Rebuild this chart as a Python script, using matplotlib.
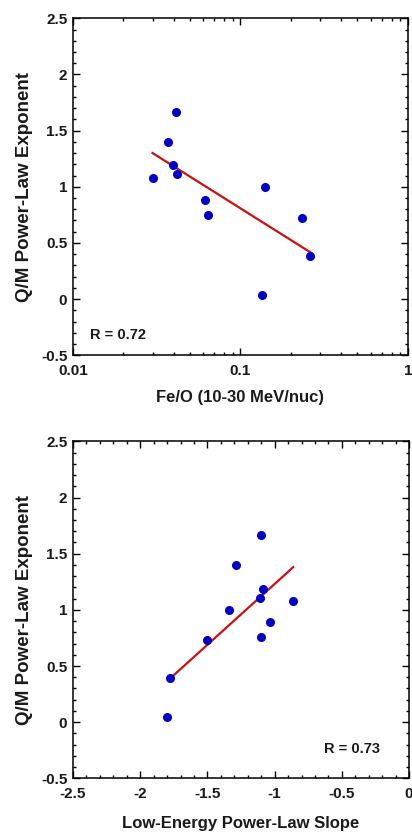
import numpy as np
import matplotlib.pyplot as plt
from matplotlib.ticker import MultipleLocator, LogLocator, NullFormatter, FixedLocator

plt.rcParams['font.family'] = ['Liberation Sans', 'DejaVu Sans']
plt.rcParams['font.weight'] = 'bold'

# top panel: Fe/O vs Q/M exponent
feo = [0.0299, 0.0369, 0.041, 0.0397, 0.042, 0.0614, 0.0643, 0.140, 0.135, 0.232, 0.260]
qm_top = [1.08, 1.40, 1.67, 1.19, 1.11, 0.88, 0.75, 1.00, 0.04, 0.72, 0.38]
fit_top_x = [0.0299, 0.266]
fit_top_y = [1.30, 0.41]

# bottom panel: low-energy slope vs Q/M exponent
slope = [-1.10, -1.29, -1.085, -1.11, -0.867, -1.338, -1.033, -1.103, -1.501, -1.779, -1.799]
qm_bot = [1.67, 1.40, 1.19, 1.11, 1.08, 1.00, 0.89, 0.76, 0.73, 0.39, 0.05]
fit_bot_x = [-1.767, -0.862]
fit_bot_y = [0.40, 1.38]

y_ticks = [-0.5, 0, 0.5, 1, 1.5, 2, 2.5]
y_labels = ['-0.5', '0', '0.5', '1', '1.5', '2', '2.5']
x_top_ticks = [0.01, 0.1, 1]
x_top_labels = ['0.01', '0.1', '1']
x_bot_ticks = [-2.5, -2, -1.5, -1, -0.5, 0]
x_bot_labels = ['-2.5', '-2', '-1.5', '-1', '-0.5', '0']

dot = '#0000c8'
red = '#cc1010'
txt = '#1a1a1a'

fig = plt.figure(figsize=(4.12, 8.32), dpi=100)
ax1 = fig.add_axes([0.177, 0.573, 0.813, 0.405])
ax2 = fig.add_axes([0.177, 0.0645, 0.816, 0.405])

# top
ax1.set_xscale('log')
ax1.set_xlim(0.01, 1)
ax1.plot(fit_top_x, fit_top_y, color=red, lw=1.6, zorder=2)
ax1.plot(feo, qm_top, 'o', color=dot, ms=5.5, zorder=3)
ax1.xaxis.set_major_locator(FixedLocator(x_top_ticks))
ax1.xaxis.set_minor_locator(LogLocator(base=10, subs=np.arange(2, 10)))
ax1.xaxis.set_minor_formatter(NullFormatter())
ax1.set_xticklabels(x_top_labels)
ax1.set_xlabel('Fe/O (10-30 MeV/nuc)', fontsize=12, fontweight='bold', labelpad=9, color=txt)
ax1.text(0.05, 0.06, 'R = 0.72', transform=ax1.transAxes, fontsize=10.5, fontweight='bold',
         ha='left', va='center', color=txt)

# bottom
ax2.set_xlim(-2.5, 0)
ax2.plot(fit_bot_x, fit_bot_y, color=red, lw=1.6, zorder=2)
ax2.plot(slope, qm_bot, 'o', color=dot, ms=5.5, zorder=3)
ax2.set_xticks(x_bot_ticks)
ax2.set_xticklabels(x_bot_labels)
ax2.xaxis.set_minor_locator(MultipleLocator(0.1))
ax2.set_xlabel('Low-Energy Power-Law Slope', fontsize=12, fontweight='bold', labelpad=11, color=txt)
ax2.text(0.914, 0.086, 'R = 0.73', transform=ax2.transAxes, fontsize=10.5, fontweight='bold',
         ha='right', va='center', color=txt)

for ax in (ax1, ax2):
    ax.set_ylim(-0.5, 2.5)
    ax.set_yticks(y_ticks)
    ax.set_yticklabels(y_labels)
    ax.yaxis.set_minor_locator(MultipleLocator(0.1))
    ax.set_ylabel('Q/M Power-Law Exponent', fontsize=13.5, fontweight='bold', labelpad=6, color=txt)
    for s in ax.spines.values():
        s.set_linewidth(1.1)
    ax.tick_params(which='both', direction='in', top=True, right=True, labelsize=11, width=1.0,
                   labelcolor=txt)
    ax.tick_params(which='major', length=5)
    ax.tick_params(which='minor', length=2.5)
    ax.tick_params(axis='x', which='major', pad=6)
    ax.tick_params(axis='y', which='major', pad=4)
    for lab in ax.get_xticklabels() + ax.get_yticklabels():
        lab.set_fontweight('bold')

fig.savefig('out.png', dpi=100)
